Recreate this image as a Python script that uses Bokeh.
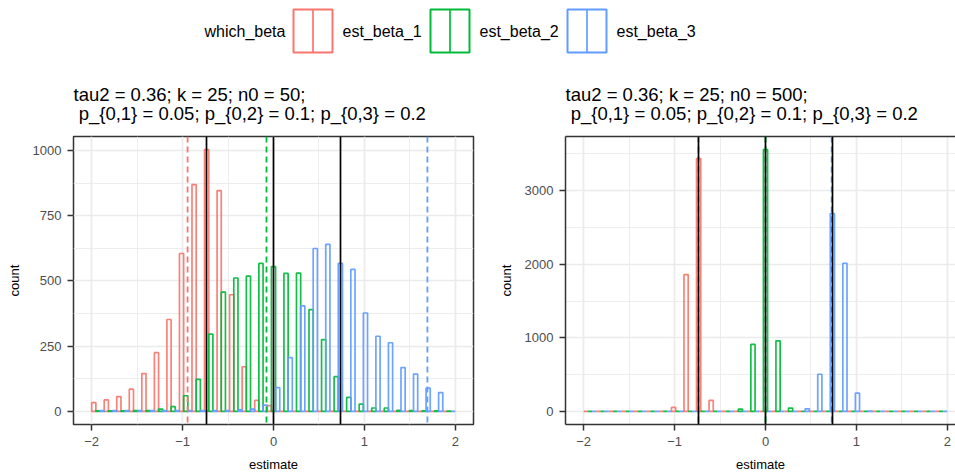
import numpy as np
from bokeh.plotting import figure
from bokeh.layouts import column, row
from bokeh.models import Range1d, FixedTicker, LinearAxis, Span, ColumnDataSource
from bokeh.embed import file_html
from bokeh.resources import INLINE
from bokeh.core.properties import value

# ---------------- data ----------------
groups = ["est_beta_1", "est_beta_2", "est_beta_3"]
colors = ["#F8766D", "#00BA38", "#619CFF"]

# histogram bins: 29 equal bins covering [-2, 2]
bin_range = (-2.0, 2.0)
n_bins = 29

# counts per bin, n0 = 50
n50_beta_1 = [34, 44, 57, 85, 145, 225, 352, 605, 869, 1003, 846, 447, 171, 42, 22,
              0, 0, 0, 0, 0, 0, 0, 0, 0, 0, 0, 0, 0, 0]
n50_beta_2 = [2, 2, 2, 3, 3, 9, 18, 60, 123, 296, 457, 511, 518, 567, 555,
              529, 530, 390, 275, 133, 54, 28, 13, 13, 4, 3, 2, 2, 1]
n50_beta_3 = [3, 3, 3, 3, 3, 3, 3, 3, 3, 3, 3, 6, 9, 24, 91,
              206, 404, 624, 640, 567, 544, 377, 288, 263, 168, 143, 89, 72, 0]

# counts per bin, n0 = 500
n500_beta_1 = [0, 0, 0, 0, 0, 0, 0, 54, 1860, 3437, 149, 0, 0, 0, 0,
               0, 0, 0, 0, 0, 0, 0, 0, 0, 0, 0, 0, 0, 0]
n500_beta_2 = [0, 0, 0, 0, 0, 0, 0, 0, 0, 0, 0, 0, 30, 910, 3559,
               959, 45, 0, 0, 0, 0, 0, 0, 0, 0, 0, 0, 0, 0]
n500_beta_3 = [0, 0, 0, 0, 0, 0, 0, 0, 0, 0, 0, 0, 0, 0, 0,
               0, 0, 35, 505, 2690, 2014, 248, 5, 0, 0, 0, 0, 0, 0]

# true coefficients (solid black) and mean estimates (dashed, per group)
true_beta = [-0.737, 0.0, 0.737]
mean_est_n50 = [-0.945, -0.077, 1.693]
mean_est_n500 = [-0.738, 0.0, 0.728]

titles = [
    "tau2 = 0.36; k = 25; n0 = 50;\n\u00a0p_{0,1} = 0.05; p_{0,2} = 0.1; p_{0,3} = 0.2",
    "tau2 = 0.36; k = 25; n0 = 500;\n\u00a0p_{0,1} = 0.05; p_{0,2} = 0.1; p_{0,3} = 0.2",
]
x_ticks = [-2, -1, 0, 1, 2]
x_minor = [-1.5, -0.5, 0.5, 1.5]
y_ticks_n50 = [0, 250, 500, 750, 1000]
y_minor_n50 = [125, 375, 625, 875]
y_ticks_n500 = [0, 1000, 2000, 3000]
y_minor_n500 = [500, 1500, 2500, 3500]

# ---------------- style ----------------
FONT = "Liberation Sans"
BORDER = "#333333"
GRID = "#EBEBEB"
TICK_TXT = "#4D4D4D"

W_TOTAL = 955
LEG_H = 62
PANEL_H = 474 - LEG_H
X_PAD = 0.2  # 5% expansion of [-2, 2]

edges = np.linspace(bin_range[0], bin_range[1], n_bins + 1)
bw = edges[1] - edges[0]


def style_axes(p, y_ticks, y_minor):
    p.xaxis.ticker = FixedTicker(ticks=x_ticks, minor_ticks=x_minor)
    p.yaxis.ticker = FixedTicker(ticks=y_ticks, minor_ticks=y_minor)
    p.xgrid.ticker = p.xaxis.ticker
    p.ygrid.ticker = p.yaxis.ticker
    for ax in (p.xaxis, p.yaxis):
        ax.major_tick_line_color = BORDER
        ax.major_tick_line_width = 1.5
        ax.major_tick_out = 6
        ax.major_tick_in = 0
        ax.minor_tick_line_color = None
        ax.major_label_text_font = FONT
        ax.major_label_text_font_size = "13px"
        ax.major_label_text_color = TICK_TXT
        ax.axis_label_text_font = FONT
        ax.axis_label_text_font_size = "13px"
        ax.axis_label_text_font_style = "normal"
        ax.axis_label_text_color = "black"
        ax.major_label_standoff = 6
        ax.axis_label_standoff = 8
    p.xaxis.axis_label = "estimate"
    p.yaxis.axis_label = "count"
    p.yaxis.major_label_orientation = "horizontal"
    for g in (p.xgrid, p.ygrid):
        g.grid_line_color = GRID
        g.grid_line_width = 1.7
        g.minor_grid_line_color = GRID
        g.minor_grid_line_width = 0.9


def make_panel(title, counts, mean_est, width, b_left, b_right, x_end,
               y_ticks, y_minor, closed_right):
    ymax = max(max(c) for c in counts)
    p = figure(width=width, height=PANEL_H, output_backend="svg", toolbar_location=None,
               x_range=Range1d(-2 - X_PAD, x_end),
               y_range=Range1d(-0.05 * ymax, 1.05 * ymax),
               min_border_left=b_left, min_border_right=b_right,
               min_border_top=74, min_border_bottom=50,
               background_fill_color="white", border_fill_color="white")
    p.title.text = title
    p.title.text_font = FONT
    p.title.text_font_size = "18.5px"
    p.title.text_font_style = "normal"
    p.title.text_color = "black"
    p.title.align = "left"
    p.title.standoff = 25
    p.title.text_line_height = 0.9
    style_axes(p, y_ticks, y_minor)

    # dodged histogram bars: each bin split into three sub-bars
    for i, (cnt, col) in enumerate(zip(counts, colors)):
        left = edges[:-1] + i * bw / 3
        src = ColumnDataSource(dict(left=left, right=left + bw / 3,
                                    top=np.array(cnt, dtype=float),
                                    bottom=np.zeros(n_bins)))
        p.quad(left="left", right="right", top="top", bottom="bottom", source=src,
               fill_color=None, line_color=col, line_width=1.7, line_alpha=0.92)

    for m, col in zip(mean_est, colors):
        p.add_layout(Span(location=m, dimension="height", line_color=col,
                          line_width=1.8, line_dash="6 4"))
    for b in true_beta:
        p.add_layout(Span(location=b, dimension="height", line_color="black",
                          line_width=1.7))

    if closed_right:
        p.outline_line_color = BORDER
        p.outline_line_width = 1.5
        p.xaxis.axis_line_color = None
        p.yaxis.axis_line_color = None
    else:
        # panel runs past the page edge: draw left, bottom and top edges only
        p.outline_line_color = None
        for ax in (p.xaxis, p.yaxis):
            ax.axis_line_color = BORDER
            ax.axis_line_width = 1.5
        top = LinearAxis(major_tick_line_color=None, minor_tick_line_color=None,
                         major_label_text_font_size="0px", major_label_standoff=0,
                         axis_line_color=BORDER, axis_line_width=1.5,
                         ticker=FixedTicker(ticks=[]))
        p.add_layout(top, "above")
    return p


# left panel: full frame [-2.2, 2.2]
W1, BL1, BR1 = 480, 73, 7
frame_w1 = W1 - BL1 - BR1
px_per_unit = frame_w1 / (4 + 2 * X_PAD)
p1 = make_panel(titles[0], [n50_beta_1, n50_beta_2, n50_beta_3], mean_est_n50,
                W1, BL1, BR1, 2 + X_PAD, y_ticks_n50, y_minor_n50, True)

# right panel: same x scale, cut by the page edge
W2 = W_TOTAL - W1
BL2, BR2 = 85, 0
frame_w2 = W2 - BL2 - BR2
x_end2 = -2 - X_PAD + frame_w2 / px_per_unit
p2 = make_panel(titles[1], [n500_beta_1, n500_beta_2, n500_beta_3], mean_est_n500,
                W2, BL2, BR2, x_end2, y_ticks_n500, y_minor_n500, False)

# ---------------- legend strip ----------------
leg = figure(width=W_TOTAL, height=LEG_H, output_backend="svg", toolbar_location=None,
             x_range=Range1d(0, W_TOTAL), y_range=Range1d(LEG_H, 0),
             min_border=0, outline_line_color=None)
leg.axis.visible = False
leg.grid.visible = False

key_left0, key_step, key_w = 293, 137, 39
key_top, key_bot = 9, 52
key_cy = (key_top + key_bot) / 2
key_x = [key_left0 + i * key_step for i in range(len(groups))]
leg.text(x=[204], y=[key_cy], text=["which_beta"], text_font=value(FONT),
         text_font_size="16px", text_baseline="middle", text_align="left", text_color="black")
for kx, g, col in zip(key_x, groups, colors):
    leg.rect(x=[kx + key_w / 2], y=[key_cy], width=[key_w], height=[key_bot - key_top],
             fill_color=None, line_color=col, line_width=2)
    leg.segment(x0=[kx + key_w / 2], y0=[key_top], x1=[kx + key_w / 2], y1=[key_bot],
                line_color=col, line_width=1.7)
    leg.text(x=[kx + key_w + 10], y=[key_cy], text=[g], text_font=value(FONT),
             text_font_size="16px", text_baseline="middle", text_align="left",
             text_color="black")

layout = column(leg, row(p1, p2, spacing=0), spacing=0)
open("out.html", "w").write(file_html(layout, INLINE))
